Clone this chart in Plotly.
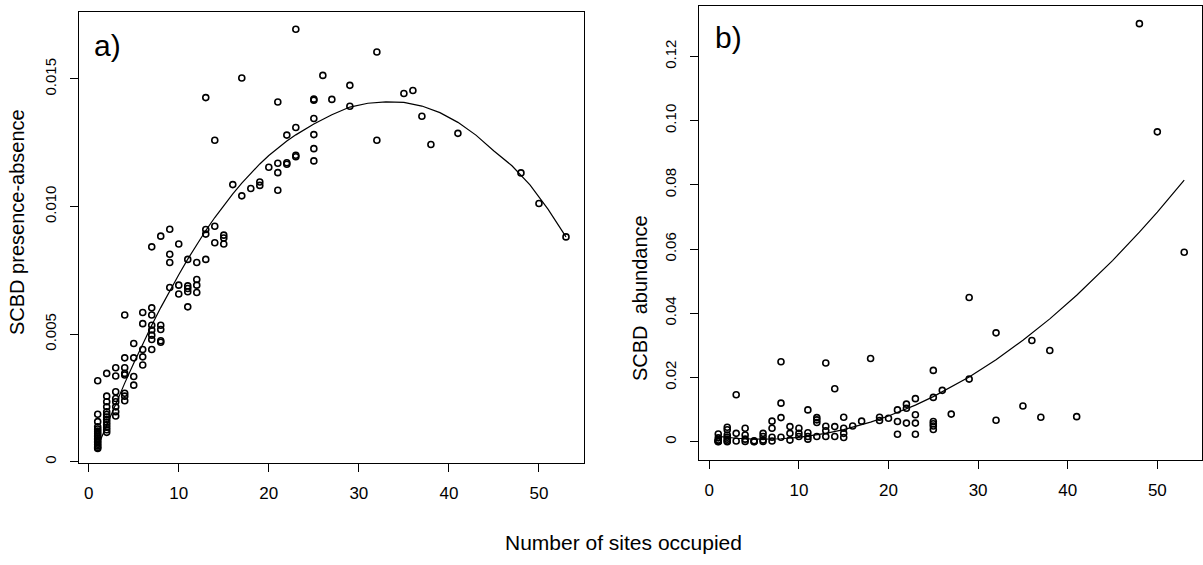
import plotly.graph_objects as go

# ---------------- Panel a: SCBD presence-absence ----------------
a_sites = ([1]*17 + [2]*13 + [3]*8 + [4]*8 + [5]*4 + [6]*5 + [7]*8 + [8]*5 + [9]*4 +
           [10]*3 + [11]*5 + [12]*4 + [13]*4 + [14]*3 + [15]*3 + [16, 17, 17, 18, 19, 19, 20] +
           [21]*4 + [22]*3 + [23]*4 + [25]*6 + [26, 27, 29, 29, 32, 32, 35, 36, 37, 38, 41, 48, 50, 53])
a_scbd = [
    # n=1
    0.00317, 0.00186, 0.00157, 0.00137, 0.00128, 0.00120, 0.00112, 0.00105, 0.00098,
    0.00092, 0.00086, 0.00080, 0.00074, 0.00068, 0.00062, 0.00056, 0.00052,
    # n=2
    0.00346, 0.00257, 0.00235, 0.00215, 0.00196, 0.00185, 0.00175, 0.00165, 0.00155,
    0.00145, 0.00135, 0.00125, 0.00115,
    # n=3
    0.00368, 0.00336, 0.00274, 0.00248, 0.00235, 0.00215, 0.00196, 0.00179,
    # n=4
    0.00575, 0.00407, 0.00368, 0.00346, 0.00340, 0.00268, 0.00257, 0.00239,
    # n=5
    0.00463, 0.00407, 0.00334, 0.00300,
    # n=6
    0.00585, 0.00541, 0.00440, 0.00411, 0.00379,
    # n=7
    0.00842, 0.00603, 0.00575, 0.00535, 0.00516, 0.00496, 0.00479, 0.00440,
    # n=8
    0.00884, 0.00535, 0.00518, 0.00474, 0.00468,
    # n=9
    0.00911, 0.00813, 0.00781, 0.00683,
    # n=10
    0.00853, 0.00692, 0.00657,
    # n=11
    0.00793, 0.00689, 0.00679, 0.00666, 0.00607,
    # n=12
    0.00781, 0.00714, 0.00692, 0.00663,
    # n=13
    0.01427, 0.00910, 0.00892, 0.00793,
    # n=14
    0.01260, 0.00923, 0.00858,
    # n=15
    0.00888, 0.00877, 0.00853,
    # n=16..20
    0.01086, 0.01504, 0.01042, 0.01071, 0.01096, 0.01083, 0.01154,
    # n=21
    0.01410, 0.01170, 0.01133, 0.01064,
    # n=22
    0.01280, 0.01172, 0.01166,
    # n=23
    0.01695, 0.01310, 0.01201, 0.01195,
    # n=25
    0.01421, 0.01417, 0.01345, 0.01282, 0.01227, 0.01179,
    # n=26 .. 53
    0.01514, 0.01420, 0.01475, 0.01393, 0.01606, 0.01260, 0.01443, 0.01455,
    0.01354, 0.01243, 0.01287, 0.01132, 0.01012, 0.00881,
]
a_fit_x = [1, 2, 3, 4, 5, 6, 7, 8, 9, 10, 11, 12, 13, 14, 15, 16, 17, 18, 19, 20,
           21, 22, 23, 25, 27, 29, 31, 33, 35, 37, 39, 41, 43, 45, 47, 49, 51, 53]
a_fit_y = [0.00060, 0.00145, 0.00228, 0.00308, 0.00386, 0.00462, 0.00535, 0.00604,
           0.00670, 0.00733, 0.00794, 0.00852, 0.00906, 0.00957, 0.01005, 0.01050,
           0.01092, 0.01131, 0.01167, 0.01200, 0.01230, 0.01257, 0.01281, 0.01324,
           0.01360, 0.01390, 0.01405, 0.01410, 0.01408, 0.01394, 0.01368, 0.01330,
           0.01280, 0.01218, 0.01160, 0.01085, 0.00990, 0.00881]

# ---------------- Panel b: SCBD abundance ----------------
b_sites = ([1]*7 + [2]*7 + [3]*3 + [4]*4 + [5]*3 + [6]*4 + [7]*4 + [8]*4 + [9]*3 + [10]*3 +
           [11]*4 + [12]*4 + [13]*4 + [14]*3 + [15]*4 + [16, 17, 18, 19, 19, 20] +
           [21]*3 + [22]*3 + [23]*4 + [25]*6 +
           [26, 27, 29, 29, 32, 32, 35, 36, 37, 38, 41, 48, 50, 53])
b_scbd = [
    0.0024, 0.0012, 0.0005, 0.0002, 0.0000, 0.0001, 0.0003,
    0.0045, 0.0037, 0.0021, 0.0014, 0.0008, 0.0002, 0.0000,
    0.0146, 0.0026, 0.0002,
    0.0042, 0.0021, 0.0008, 0.0001,
    0.0003, 0.0001, 0.0000,
    0.0026, 0.0016, 0.0005, 0.0001,
    0.0064, 0.0042, 0.0014, 0.0002,
    0.0249, 0.0120, 0.0075, 0.0014,
    0.0047, 0.0026, 0.0005,
    0.0042, 0.0026, 0.0016,
    0.0099, 0.0028, 0.0016, 0.0008,
    0.0075, 0.0068, 0.0060, 0.0016,
    0.0245, 0.0048, 0.0034, 0.0016,
    0.0165, 0.0047, 0.0016,
    0.0076, 0.0042, 0.0026, 0.0013,
    0.0049, 0.0064, 0.0259, 0.0076, 0.0066, 0.0073,
    0.0099, 0.0063, 0.0023,
    0.0117, 0.0104, 0.0058,
    0.0134, 0.0084, 0.0058, 0.0023,
    0.0222, 0.0138, 0.0063, 0.0056, 0.0049, 0.0038,
    0.0160, 0.0086, 0.0449, 0.0195, 0.0339, 0.0067, 0.0111, 0.0315,
    0.0076, 0.0284, 0.0078, 0.1302, 0.0965, 0.0590,
]
b_fit_x = [1, 3, 5, 8, 10, 13, 15, 18, 20, 23, 25, 29, 32, 35, 38, 41, 45, 48, 50, 53]
b_fit_y = [0.00163, 0.00107, 0.00079, 0.00092, 0.00137, 0.00260, 0.00378, 0.00609,
           0.00800, 0.01140, 0.01404, 0.02018, 0.02555, 0.03158, 0.03826, 0.04560,
           0.05640, 0.06526, 0.07153, 0.08149]

x_ticks = [0, 10, 20, 30, 40, 50]
a_yticks = [0, 0.005, 0.010, 0.015]
a_ytext = ["0", "0.005", "0.010", "0.015"]
b_yticks = [0, 0.02, 0.04, 0.06, 0.08, 0.10, 0.12]
b_ytext = ["0", "0.02", "0.04", "0.06", "0.08", "0.10", "0.12"]

FONT = "Arial, Liberation Sans, sans-serif"
W, H = 1203, 565

marker = dict(symbol="circle-open", size=6, color="black", line=dict(width=1.6, color="black"))

fig = go.Figure()
fig.add_trace(go.Scatter(x=a_sites, y=a_scbd, mode="markers", marker=marker,
                         xaxis="x", yaxis="y", showlegend=False, hoverinfo="skip"))
fig.add_trace(go.Scatter(x=a_fit_x, y=a_fit_y, mode="lines", line=dict(color="black", width=1.2),
                         xaxis="x", yaxis="y", showlegend=False, hoverinfo="skip"))
fig.add_trace(go.Scatter(x=b_sites, y=b_scbd, mode="markers", marker=marker,
                         xaxis="x2", yaxis="y2", showlegend=False, hoverinfo="skip"))
fig.add_trace(go.Scatter(x=b_fit_x, y=b_fit_y, mode="lines", line=dict(color="black", width=1.2),
                         xaxis="x2", yaxis="y2", showlegend=False, hoverinfo="skip"))

def px_x(p):
    return p / W

def px_y(p):
    return 1 - p / H

common_x = dict(showline=True, mirror=True, linecolor="black", linewidth=1.2,
                ticks="outside", ticklen=8, tickwidth=1.2, tickcolor="black",
                showgrid=False, zeroline=False, tickvals=x_ticks,
                tickfont=dict(family=FONT, size=17, color="black"), ticklabelstandoff=6)
common_y = dict(showline=True, mirror=True, linecolor="black", linewidth=1.2,
                ticks="outside", ticklen=8, tickwidth=1.2, tickcolor="black",
                showgrid=False, zeroline=False, tickangle=-90,
                tickfont=dict(family=FONT, size=15, color="black"), ticklabelstandoff=8)

fig.update_layout(
    width=W, height=H,
    margin=dict(l=0, r=0, t=0, b=0),
    paper_bgcolor="white", plot_bgcolor="white",
    xaxis=dict(domain=[px_x(79), px_x(584)], range=[-1.077, 55.0], anchor="y", **common_x),
    yaxis=dict(domain=[px_y(463.3), px_y(12.3)], range=[-0.0000627, 0.017614], anchor="x",
               tickvals=a_yticks, ticktext=a_ytext, **common_y),
    xaxis2=dict(domain=[px_x(699), px_x(1201.5)], range=[-1.15, 54.93], anchor="y2", **common_x),
    yaxis2=dict(domain=[px_y(460), px_y(6)], range=[-0.0057, 0.1357], anchor="x2",
                tickvals=b_yticks, ticktext=b_ytext, **common_y),
    annotations=[
        dict(text="a)", x=px_x(92), y=px_y(46), xref="paper", yref="paper",
             xanchor="left", yanchor="middle", showarrow=False,
             font=dict(family=FONT, size=30, color="black")),
        dict(text="b)", x=px_x(713), y=px_y(37), xref="paper", yref="paper",
             xanchor="left", yanchor="middle", showarrow=False,
             font=dict(family=FONT, size=30, color="black")),
        dict(text="SCBD presence-absence", x=px_x(17), y=px_y(222), xref="paper", yref="paper",
             xanchor="center", yanchor="middle", textangle=-90, showarrow=False,
             font=dict(family=FONT, size=20, color="black")),
        dict(text="SCBD  abundance", x=px_x(640), y=px_y(298), xref="paper", yref="paper",
             xanchor="center", yanchor="middle", textangle=-90, showarrow=False,
             font=dict(family=FONT, size=20, color="black")),
        dict(text="Number of sites occupied", x=px_x(623), y=px_y(542), xref="paper", yref="paper",
             xanchor="center", yanchor="middle", showarrow=False,
             font=dict(family=FONT, size=21, color="black")),
    ],
)

fig.write_html("out.html", config={"displayModeBar": False},
               post_script="document.body.style.margin='0';")
